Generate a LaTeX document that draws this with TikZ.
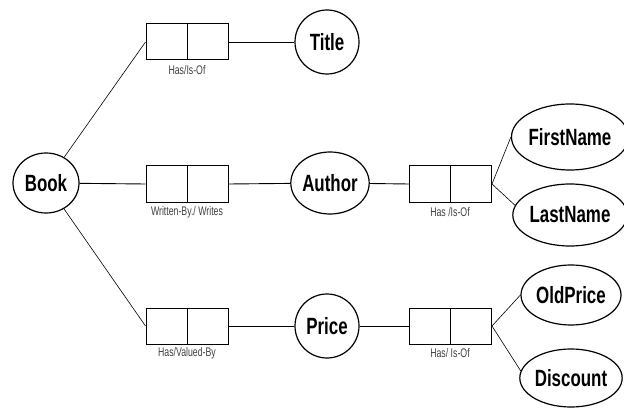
\documentclass[tikz,border=0pt]{standalone}
\usepackage{fontspec}
\setmainfont{Liberation Sans}
\newfontfamily\nodefont{Liberation Sans}[FakeStretch=0.72]
\newfontfamily\labfont{Liberation Sans}[FakeStretch=0.7]
\usetikzlibrary{shapes.geometric}
\tikzset{
  ent/.style={draw, ellipse, line width=1.2pt, inner sep=0pt,
    font=\nodefont\bfseries\fontsize{23.5}{23.5}\selectfont},
  relbox/.style={draw, rectangle, line width=1.0pt, inner sep=0pt,
    minimum width=82pt, minimum height=36pt},
  rellab/.style={text=black!75, inner sep=0pt, font=\labfont\fontsize{12.5}{12.5}\selectfont},
  conn/.style={line width=0.9pt},
  diag/.style={line width=0.6pt}
}
\begin{document}
\begin{tikzpicture}[x=1pt,y=-1pt]
\useasboundingbox (0,0) rectangle (624,409);
% entities
\node[ent, minimum width=64pt, minimum height=64pt] (title) at (327,42) {Title};
\node[ent, minimum width=66pt, minimum height=60pt] (book) at (46,183) {Book};
\node[ent, minimum width=76pt, minimum height=62pt] (author) at (330,183) {Author};
\node[ent, minimum width=64pt, minimum height=64pt] (price) at (327,326) {Price};
\node[ent, minimum width=100pt, minimum height=66pt] (first) at (570,137) {FirstName};
\node[ent, minimum width=100pt, minimum height=62pt] (last) at (570,215) {LastName};
\node[ent, minimum width=100pt, minimum height=60pt] (old) at (571,295) {OldPrice};
\node[ent, minimum width=100pt, minimum height=58pt] (disc) at (571,378) {Discount};
% relationship boxes
\node[relbox] (r1) at (187,42) {};
\node[relbox] (r2) at (187,184) {};
\node[relbox] (r3) at (187,326) {};
\node[relbox] (r4) at (450.5,184) {};
\node[relbox] (r5) at (450.5,326) {};
\foreach \r in {r1,r2,r3,r4,r5} \draw[line width=1.0pt] (\r.north) -- (\r.south);
% labels
\node[rellab] (l1) at (187,70) {Has/Is-Of};
\node[rellab] (l2) at (187,212) {Written-By./ Writes};
\node[rellab] (l3) at (187,353) {Has/Valued-By};
\node[rellab] (l4) at (450,212) {Has /Is-Of};
\node[rellab] (l5) at (450,353) {Has/ Is-Of};
% connectors
\draw[diag] (book) -- (r1.west);
\draw[conn] (book) -- (r2.west);
\draw[diag] (book) -- (r3.west);
\draw[conn] (r1.east) -- (title);
\draw[conn] (r2.east) -- (author);
\draw[conn] (author) -- (r4.west);
\draw[conn] (r3.east) -- (price);
\draw[conn] (price) -- (r5.west);
\draw[diag] (r4.east) -- (first.west);
\draw[diag] (r4.east) -- (last.170);
\draw[diag] (r5.east) -- (old.west);
\draw[diag] (r5.east) -- (disc.172);
\end{tikzpicture}
\end{document}
